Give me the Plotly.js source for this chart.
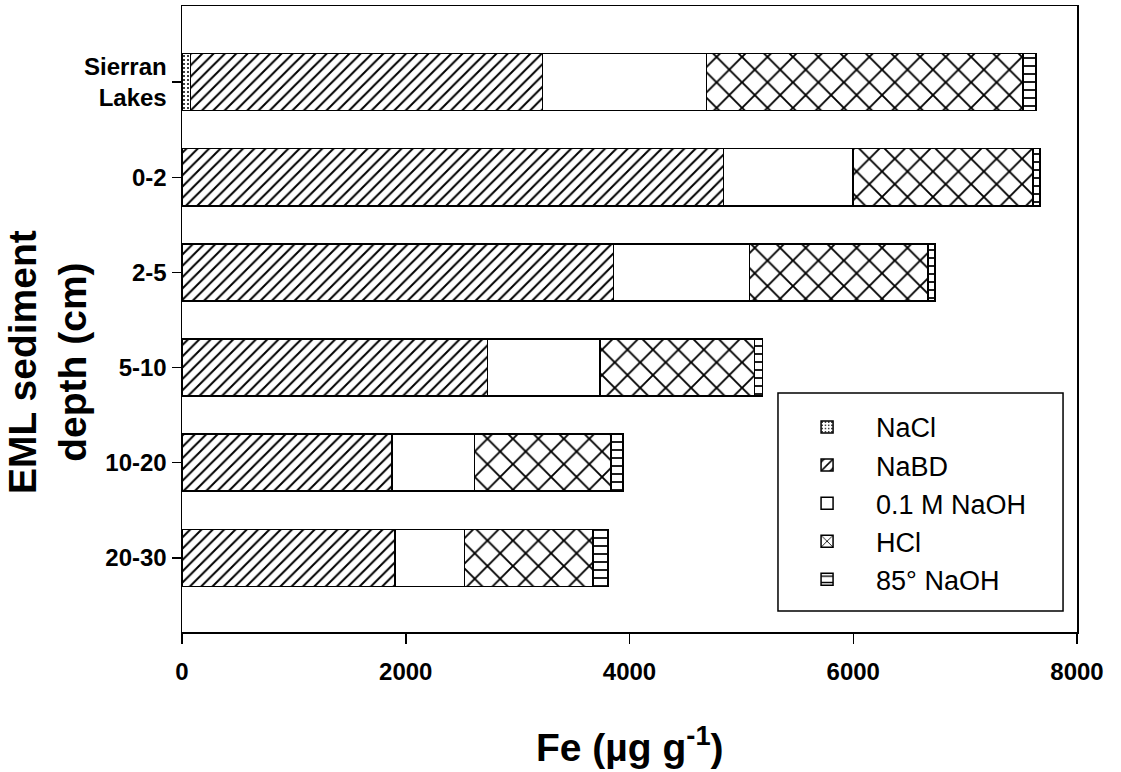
<!DOCTYPE html>
<html>
<head>
<meta charset="utf-8">
<script src="https://cdn.plot.ly/plotly-3.0.1.min.js"></script>
<style>html,body{margin:0;padding:0;background:#fff;}#chart{width:1121px;height:772px;}</style>
</head>
<body>
<div id="chart"></div>
<script>
// Categories (top to bottom)
const categories = ['Sierran<br>Lakes', '0-2', '2-5', '5-10', '10-20', '20-30'];
// Fe fractions (µg g-1)
const NaCl    = [75, 0, 0, 0, 0, 0];
const NaBD    = [3146, 4838, 3857, 2729, 1876, 1906];
const NaOH01  = [1468, 1158, 1217, 1007, 737, 621];
const HCl     = [2828, 1610, 1593, 1383, 1223, 1148];
const NaOH85  = [116, 63, 62, 71, 108, 131];
const seriesNames = ['NaCl', 'NaBD', '0.1 M NaOH', 'HCl', '85° NaOH'];
const xTicks = [0, 2000, 4000, 6000, 8000];

const yIdx = categories.map((c, i) => i);
const seriesData = [NaCl, NaBD, NaOH01, HCl, NaOH85];
const patterns = [
  {shape: '.', size: 4, solidity: 0.2},
  {shape: '/', size: 8, solidity: 0.25},
  {shape: '', size: 8, solidity: 0.2},
  {shape: 'x', size: 18, solidity: 0.2},
  {shape: '-', size: 8, solidity: 0.22}
];

const traces = seriesData.map((vals, k) => ({
  type: 'bar',
  orientation: 'h',
  name: seriesNames[k],
  legendgroup: 'g' + k,
  x: vals,
  y: yIdx,
  width: 0.6,
  marker: {
    color: 'white',
    line: {color: 'black', width: 1.5},
    pattern: Object.assign({fillmode: 'overlay', fgcolor: 'black', bgcolor: 'white', fgopacity: 1}, patterns[k])
  },
  hoverinfo: 'x+name'
}));

const FAM = 'Liberation Sans, Arial, sans-serif';
const tickFont = {family: FAM, size: 24, color: 'black', weight: 'bold'};
const titleFont = {family: FAM, size: 39, color: 'black', weight: 'bold'};

const layout = {
  width: 1121,
  height: 772,
  margin: {l: 182, r: 44, t: 6, b: 140},
  paper_bgcolor: 'white',
  plot_bgcolor: 'white',
  barmode: 'stack',
  showlegend: true,
  legend: {
    x: 0.666, y: 0.366, xanchor: 'left', yanchor: 'top',
    borderwidth: 0, bgcolor: 'rgba(0,0,0,0)',
    font: {family: FAM, size: 27, color: 'black'},
    traceorder: 'grouped', tracegroupgap: 0, itemwidth: 88
  },
  shapes: [{
    type: 'rect', xref: 'paper', yref: 'paper',
    x0: 0.6659, x1: 0.9844, y0: 0.0335, y1: 0.3818,
    line: {color: 'black', width: 1.5}, fillcolor: 'white', layer: 'above'
  }],
  xaxis: {
    range: [0, 8000],
    tickvals: xTicks,
    ticktext: xTicks.map(String),
    ticks: 'outside', ticklen: 10, tickwidth: 1.5, tickcolor: 'black',
    ticklabelstandoff: 8,
    showline: true, mirror: true, linecolor: 'black', linewidth: 1.5,
    showgrid: false, zeroline: false,
    tickfont: tickFont
  },
  yaxis: {
    range: [5.78, -0.8],
    tickvals: yIdx,
    ticktext: categories,
    ticks: 'outside', ticklen: 9, tickwidth: 1.5, tickcolor: 'black',
    showline: true, mirror: true, linecolor: 'black', linewidth: 1.5,
    showgrid: false, zeroline: false,
    tickfont: tickFont
  },
  annotations: [{
    text: 'EML sediment<br>depth (cm)',
    xref: 'paper', yref: 'paper',
    x: -0.15, y: 0.431, xanchor: 'center', yanchor: 'middle',
    textangle: -90, showarrow: false,
    font: titleFont
  }, {
    text: 'Fe (µg g<sup>-1</sup>)',
    xref: 'paper', yref: 'paper',
    x: 0.5, y: -0.18, xanchor: 'center', yanchor: 'middle',
    showarrow: false,
    font: titleFont
  }]
};

Plotly.newPlot('chart', traces, layout, {displayModeBar: false, staticPlot: true});
</script>
</body>
</html>
